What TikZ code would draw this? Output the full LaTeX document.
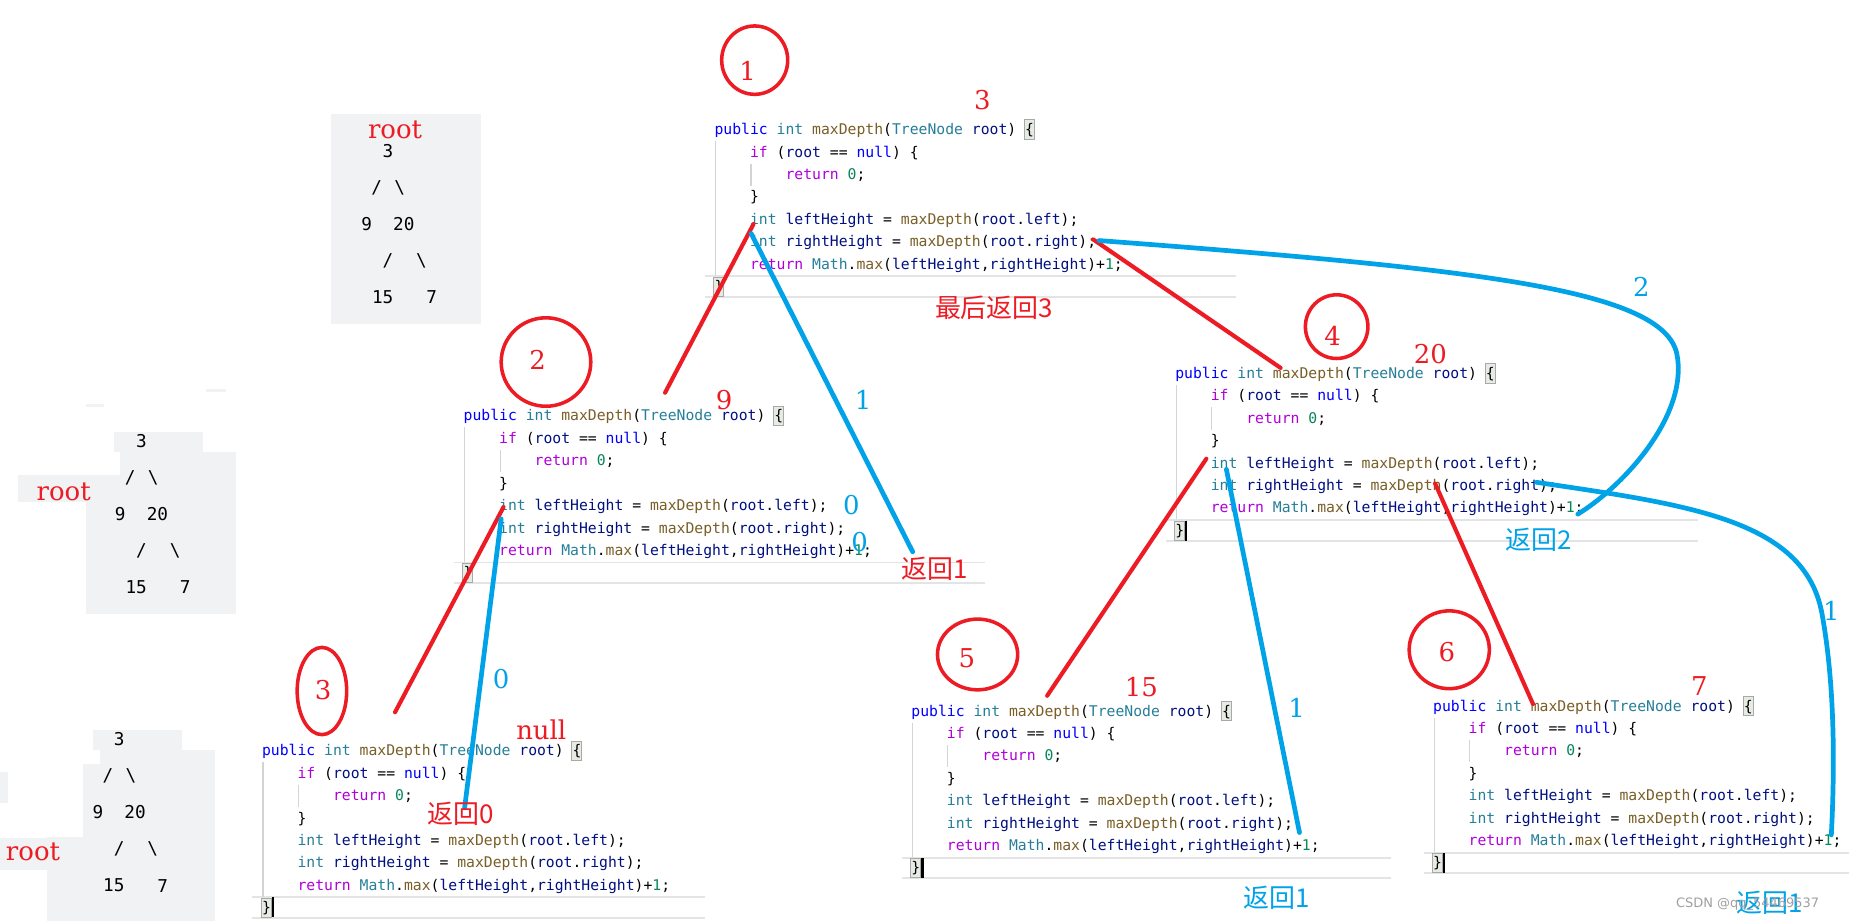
\documentclass[tikz,border=0pt]{standalone}
\usepackage{fontspec}
\usetikzlibrary{shapes.geometric}
\newfontfamily\codef{DejaVu Sans Mono}
\newfontfamily\labf{DejaVu Serif}
\newfontfamily\cjkf{Noto Sans CJK SC}
\newfontfamily\wmf{DejaVu Sans}
\definecolor{kwblue}{HTML}{0000FF}
\definecolor{kwpurple}{HTML}{AF00DB}
\definecolor{tyteal}{HTML}{267F99}
\definecolor{fnbrown}{HTML}{795E26}
\definecolor{vanavy}{HTML}{001080}
\definecolor{nugreen}{HTML}{098658}
\definecolor{pred}{HTML}{ED1C24}
\definecolor{pblue}{HTML}{00A2E8}
\definecolor{treegray}{HTML}{F1F2F4}
\definecolor{sepgray}{HTML}{E4E4E4}
\definecolor{guidegray}{HTML}{D4D4D4}
\definecolor{brkfill}{HTML}{E6EBE4}
\definecolor{brkborder}{HTML}{A8A8A8}
\definecolor{wmgray}{HTML}{A0A0A0}
\def\cw{7.525}
\newcommand\cKB[1]{\textcolor{kwblue}{#1}}
\newcommand\cKP[1]{\textcolor{kwpurple}{#1}}
\newcommand\cTY[1]{\textcolor{tyteal}{#1}}
\newcommand\cFN[1]{\textcolor{fnbrown}{#1}}
\newcommand\cVA[1]{\textcolor{vanavy}{#1}}
\newcommand\cNU[1]{\textcolor{nugreen}{#1}}
\tikzset{
  cl/.style={anchor=base west, inner sep=0, font=\codef\fontsize{12.5}{15}\selectfont, text=black},
  sepline/.style={draw=sepgray, line width=1.6pt},
  guide/.style={draw=guidegray, line width=1pt},
  brk/.style={draw=brkborder, fill=brkfill, line width=0.8pt},
  curs/.style={draw=black, line width=2pt},
  redln/.style={draw=pred, line width=3.5pt, line cap=round},
  blueln/.style={draw=pblue, line width=4pt, line cap=round},
  circ/.style={draw=pred, line width=3pt, ellipse, inner sep=0},
  rlab/.style={text=pred, font=\labf\fontsize{22}{22}\selectfont, inner sep=0},
  blab/.style={text=pblue, font=\labf\fontsize{22}{22}\selectfont, inner sep=0},
  rcjk/.style={text=pred, font=\cjkf\fontsize{22}{22}\selectfont, inner sep=0},
  bcjk/.style={text=pblue, font=\cjkf\fontsize{22}{22}\selectfont, inner sep=0},
  treet/.style={font=\codef\fontsize{15}{15}\selectfont, inner sep=0, text=black},
  tbox/.style={fill=treegray, draw=none},
  wm/.style={font=\wmf\fontsize{11}{11}\selectfont, text=wmgray, inner sep=0}
}
\newcommand\codeblk[4]{%
\begin{scope}[shift={(#2,#3)}]
\draw[sepline] (-8,124.5) -- (#4-#2,124.5);
\draw[sepline] (-8,142) -- (#4-#2,142);
\draw[guide] (1,10) -- (1,124);
\draw[guide] (4*\cw+1,29) -- (4*\cw+1,48);
\draw[brk] (35*\cw-0.5,-8) rectangle (36*\cw+0.5,8.5);
\draw[brk] (-0.5,125.5) rectangle (\cw+0.5,141.5);
\node[cl] (#1-1) at (0,4.5) {\cKB{public} \cTY{int} \cFN{maxDepth}(\cTY{TreeNode} \cVA{root}) \{};
\node[cl] (#1-2) at (4*\cw,23.5) {\cKP{if} (\cVA{root} == \cKB{null}) \{};
\node[cl] (#1-3) at (8*\cw,42.5) {\cKP{return} \cNU{0};};
\node[cl] (#1-4) at (4*\cw,61.5) {\}};
\node[cl] (#1-5) at (4*\cw,80.5) {\cTY{int} \cVA{leftHeight} = \cFN{maxDepth}(\cVA{root}.\cVA{left});};
\node[cl] (#1-6) at (4*\cw,99.5) {\cTY{int} \cVA{rightHeight} = \cFN{maxDepth}(\cVA{root}.\cVA{right});};
\node[cl] (#1-7) at (4*\cw,118.5) {\cKP{return} \cTY{Math}.\cFN{max}(\cVA{leftHeight},\cVA{rightHeight})+\cNU{1};};
\node[cl] (#1-8) at (0,137.5) {\}};
\end{scope}}
\newcommand\treeblk[3]{%
\begin{scope}[shift={(#2,#3)}]
\node[treet] (#1-n3) at (0,0) {3};
\node[treet] (#1-s1) at (-9.5,31) {/};
\node[treet] (#1-b1) at (10,31) {\textbackslash};
\node[treet] (#1-n9) at (-18,62) {9};
\node[treet] (#1-n20) at (13.5,62) {20};
\node[treet] (#1-s2) at (0,93) {/};
\node[treet] (#1-b2) at (28.5,93) {\textbackslash};
\node[treet] (#1-n15) at (-4.5,124) {15};
\node[treet] (#1-n7) at (37,124) {7};
\end{scope}}
\begin{document}
\begin{tikzpicture}[x=1pt,y=-1pt]
\fill[white] (0,0) rectangle (1568,782.7);
\useasboundingbox (0,0) rectangle (1568,782.7);
% ---- tree backgrounds
\fill[tbox] (281,97) rectangle (408,275);
\fill[tbox] (97,366) rectangle (172,383);
\fill[tbox] (102,383) rectangle (200,426);
\fill[tbox] (15,403) rectangle (102,426);
\fill[tbox] (73,426) rectangle (200,521);
\fill[tbox] (175,330) rectangle (192,332.5);
\fill[tbox] (73,342.5) rectangle (88,345);
\fill[tbox] (79,619) rectangle (154,636);
\fill[tbox] (85,636) rectangle (182,648);
\fill[tbox] (70,648) rectangle (182,710);
\fill[tbox] (40,710) rectangle (182,781);
\fill[tbox] (0,711) rectangle (62,738);
\fill[tbox] (0,655) rectangle (7,681);
% ---- trees
\node[rlab] (rootA) at (335,110) {root};
\treeblk{tA}{329}{128}
\node[rlab] (rootB) at (54,417) {root};
\treeblk{tB}{120}{374}
\node[rlab] (rootC) at (28,722) {root};
\treeblk{tC}{101}{627}
% ---- code blocks
\codeblk{cA}{605.8}{109.7}{1048}
\codeblk{cB}{393}{352.5}{835}
\codeblk{cC}{222}{636.5}{598}
\codeblk{cD}{996.5}{316.5}{1440}
\codeblk{cE}{772.7}{602.8}{1180}
\codeblk{cF}{1215.2}{598.5}{1568}
\draw[curs] (231.5,761) -- (231.5,778);
\draw[curs] (1006,441.5) -- (1006,458.5);
\draw[curs] (782.2,727.5) -- (782.2,744.5);
\draw[curs] (1224.7,723) -- (1224.7,740);
% ---- circles
\node[circ, minimum width=56, minimum height=58] (c1) at (640,51) {};
\node[rlab] (n1) at (634,60) {1};
\node[circ, minimum width=76, minimum height=75] (c2) at (463,307) {};
\node[rlab] (n2) at (456,305) {2};
\node[circ, minimum width=42, minimum height=74] (c3) at (273,586) {};
\node[rlab] (n3) at (274,585) {3};
\node[circ, minimum width=53, minimum height=54] (c4) at (1133.5,277) {};
\node[rlab] (n4) at (1130,285) {4};
\node[circ, minimum width=68, minimum height=60] (c5) at (829,555) {};
\node[rlab] (n5) at (820,558) {5};
\node[circ, minimum width=68, minimum height=66] (c6) at (1229,551) {};
\node[rlab] (n6) at (1227,553) {6};
% ---- connector end points
\coordinate (r1a) at (639,190);   \coordinate (r1b) at (564,333);
\coordinate (r2a) at (927,203);   \coordinate (r2b) at (1086,312);
\coordinate (r3a) at (427,430);   \coordinate (r3b) at (335,604);
\coordinate (r4a) at (1023,389);  \coordinate (r4b) at (888,590);
\coordinate (r5a) at (1217,410);  \coordinate (r5b) at (1300,597);
\coordinate (b1a) at (637,198);   \coordinate (b1b) at (774,468);
\coordinate (b2a) at (425,440);   \coordinate (b2b) at (394,685);
\coordinate (b3a) at (932,204);   \coordinate (b3m) at (1422,300);  \coordinate (b3b) at (1338,436);
\coordinate (b4a) at (1303,409);  \coordinate (b4m) at (1545,520);  \coordinate (b4b) at (1553,708);
\coordinate (b5a) at (1040,398);  \coordinate (b5b) at (1102,706);
% ---- red connectors
\draw[redln] (r1a) -- (r1b);
\draw[redln] (r2a) -- (r2b);
\draw[redln] (r3a) -- (r3b);
\draw[redln] (r4a) -- (r4b);
\draw[redln] (r5a) -- (r5b);
% ---- blue connectors
\draw[blueln] (b1a) -- (b1b);
\draw[blueln] (b2a) -- (b2b);
\draw[blueln] (b3a) .. controls (1250,228) and (1410,245) .. (b3m) .. controls (1432,350) and (1380,410) .. (b3b);
\draw[blueln] (b4a) .. controls (1430,428) and (1530,440) .. (b4m) .. controls (1556,580) and (1556,650) .. (b4b);
\draw[blueln] (b5a) -- (b5b);
% ---- labels
\node[rlab] (v3) at (833,85) {3};
\node[rcjk] (fin3) at (843,261) {最后返回3};
\node[rlab] (v9) at (614,339) {9};
\node[blab] (e1) at (732,339) {1};
\node[blab] (e0a) at (722,428) {0};
\node[blab] (e0b) at (729,460) {0};
\node[rcjk] (ret1a) at (793,482) {返回1};
\node[blab] (e0c) at (425,576) {0};
\node[rlab] (vnull) at (459,619) {null};
\node[rcjk] (ret0) at (391,690) {返回0};
\node[rlab] (v20) at (1213,300) {20};
\node[blab] (e2) at (1392,243) {2};
\node[bcjk] (ret2) at (1305,458) {返回2};
\node[rlab] (v15) at (968,583) {15};
\node[blab] (e1b) at (1099.5,600) {1};
\node[bcjk] (ret1b) at (1083,761) {返回1};
\node[rlab] (v7) at (1441,582) {7};
\node[blab] (e1c) at (1553,518) {1};
\node[bcjk] (ret1c) at (1501,766) {返回1};
\node[wm] (wmark) at (1482,767) {CSDN @qq\_54469537};
\end{tikzpicture}
\end{document}
